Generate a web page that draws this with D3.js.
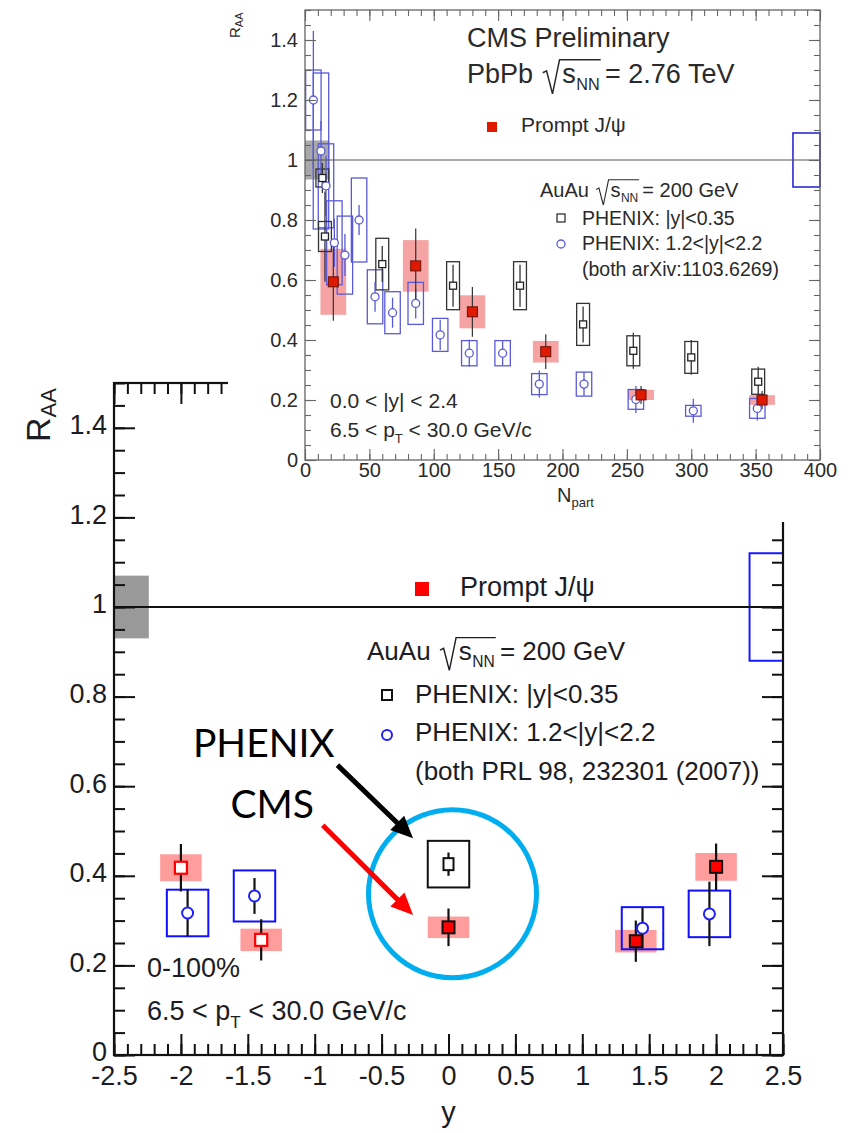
<!DOCTYPE html>
<html>
<head>
<meta charset="utf-8">
<script src="https://cdn.jsdelivr.net/npm/d3@7"></script>
<style>
body { margin: 0; background: #fff; }
svg { display: block; }
text { font-family: "Liberation Sans", Arial, sans-serif; }
</style>
</head>
<body>
<svg id="chart" width="849" height="1133"></svg>
<script>
// ---------- main plot: R_AA vs rapidity ----------
const raaTicks = [0, 0.2, 0.4, 0.6, 0.8, 1, 1.2, 1.4];
const rapTicks = [-2.5, -2, -1.5, -1, -0.5, 0, 0.5, 1, 1.5, 2, 2.5];

// CMS prompt J/psi, measured
const cmsRap = [0, 1.4, 2.0];
const cmsRaa = [0.285, 0.254, 0.42];
const cmsStat = [0.042, 0.046, 0.052];
const cmsSys = [0.024, 0.025, 0.031];
// CMS reflected to negative y (open symbols)
const cmsRefRap = [-2.0, -1.4];
const cmsRefRaa = [0.418, 0.257];
const cmsRefStat = [0.053, 0.046];
const cmsRefSys = [0.03, 0.025];
// PHENIX |y|<0.35
const phxMidRap = [0];
const phxMidRaa = [0.426];
const phxMidStat = [0.026];
const phxMidSys = [0.052];
// PHENIX 1.2<|y|<2.2
const phxFwdRap = [-1.95, -1.45, 1.45, 1.95];
const phxFwdRaa = [0.317, 0.355, 0.283, 0.315];
const phxFwdStat = [0.052, 0.04, 0.045, 0.072];
const phxFwdSys = [0.052, 0.057, 0.047, 0.052];
// global uncertainties at R_AA = 1
const cmsGlobal = 0.07;
const phxGlobal = 0.12;

// ---------- inset: R_AA vs Npart ----------
const npartTicks = [0, 50, 100, 150, 200, 250, 300, 350, 400];

const cmsNpart = [22, 86, 130, 187, 261, 355];
const cmsNpartRaa = [0.594, 0.647, 0.494, 0.361, 0.217, 0.20];
const cmsNpartStat = [0.13, 0.125, 0.083, 0.058, 0.03, 0.03];
const cmsNpartSys = [0.11, 0.086, 0.055, 0.036, 0.017, 0.016];

const phxMidNpart = [13.5, 15.5, 60, 115, 167, 216, 255, 300, 352];
const phxMidNpartRaa = [0.94, 0.745, 0.653, 0.581, 0.581, 0.452, 0.364, 0.342, 0.261];
const phxMidNpartStat = [0.05, 0.15, 0.06, 0.07, 0.07, 0.06, 0.06, 0.058, 0.05];
const phxMidNpartSys = [0.03, 0.05, 0.086, 0.08, 0.08, 0.07, 0.05, 0.053, 0.042];

const phxFwdNpart = [6.5, 12.4, 16.3, 22.8, 31, 42, 54.4, 68, 86, 105, 127.6, 153.5, 182, 216.7, 257, 301.6, 351.3];
const phxFwdNpartRaa = [1.2, 1.03, 0.914, 0.724, 0.683, 0.80, 0.544, 0.491, 0.522, 0.417, 0.356, 0.356, 0.253, 0.253, 0.202, 0.164, 0.172];
const phxFwdNpartStat = [0.23, 0.1, 0.1, 0.08, 0.07, 0.05, 0.05, 0.05, 0.05, 0.05, 0.045, 0.04, 0.045, 0.04, 0.045, 0.04, 0.04];
const phxFwdNpartSys = [0.1, 0.26, 0.14, 0.14, 0.13, 0.14, 0.09, 0.07, 0.07, 0.055, 0.042, 0.042, 0.035, 0.04, 0.033, 0.018, 0.033];

const cmsGlobalNpart = 0.065;
const phxGlobalNpart = 0.09;

// callouts (data coordinates of the main plot)
const calloutText = ["PHENIX", "CMS"];
const calloutAt = [[-1.91, 0.665], [-1.63, 0.53]];
const arrowFrom = [[-0.83, 0.647], [-0.94, 0.513]];
const arrowTo = [[-0.265, 0.484], [-0.265, 0.3125]];
const arrowColor = ["#000", "#f00"];
const ringCenter = [0.03, 0.36];

const svg = d3.select("#chart");
svg.append("rect").attr("width", 849).attr("height", 1133).attr("fill", "#fff");

function zip(xs, ys, st, sy) {
  return xs.map((x, i) => ({x: x, y: ys[i], st: st[i], sy: sy[i]}));
}

function frame(g, x, y, c) {
  const [x0, x1] = x.range(), [y0, y1] = y.range();
  function add(axis, tx, ty, vals, len, pad) {
    const a = g.append("g").attr("transform", `translate(${tx},${ty})`)
      .call(axis.tickValues(vals).tickSize(-len).tickSizeOuter(0)
        .tickPadding(pad == null ? 0 : pad)
        .tickFormat(pad == null ? () => "" : d => String(d)));
    a.select(".domain").remove();
    a.selectAll("line").attr("stroke", c.color).attr("stroke-width", c.tickW);
    a.selectAll("text").attr("fill", c.text).style("font-size", c.fs + "px")
      .style("font-family", '"Liberation Sans", Arial, sans-serif');
    return a;
  }
  add(d3.axisBottom(x), 0, y0, c.xMinor, c.minor);
  add(d3.axisBottom(x), 0, y0, c.xMajor, c.major, c.xPad);
  add(d3.axisTop(x), 0, y1, c.xMinor, c.minor);
  add(d3.axisTop(x), 0, y1, c.xMajor, c.major);
  add(d3.axisLeft(y), x0, 0, c.yMinor, c.minor);
  add(d3.axisLeft(y), x0, 0, c.yMajor, c.major, c.yPad).selectAll("text").attr("dy", c.yDy);
  add(d3.axisRight(y), x1, 0, c.yMinor, c.minor);
  add(d3.axisRight(y), x1, 0, c.yMajor, c.major);
  g.append("rect").attr("x", x0).attr("y", y1).attr("width", x1 - x0).attr("height", y0 - y1)
    .attr("fill", "none").attr("stroke", c.color).attr("stroke-width", c.frameW);
}

function boxes(g, x, y, data, half, fill, stroke, sw) {
  g.selectAll(null).data(data).join("rect")
    .attr("x", d => x(d.x - half)).attr("width", d => x(d.x + half) - x(d.x - half))
    .attr("y", d => y(d.y + d.sy)).attr("height", d => y(d.y - d.sy) - y(d.y + d.sy))
    .attr("fill", fill).attr("stroke", stroke).attr("stroke-width", sw);
}

function errs(g, x, y, data, color, sw) {
  g.selectAll(null).data(data).join("line")
    .attr("x1", d => x(d.x)).attr("x2", d => x(d.x))
    .attr("y1", d => y(d.y + d.st)).attr("y2", d => y(d.y - d.st))
    .attr("stroke", color).attr("stroke-width", sw);
}

function squares(g, x, y, data, w, h, fill, stroke, sw) {
  g.selectAll(null).data(data).join("rect")
    .attr("x", d => x(d.x) - w / 2).attr("y", d => y(d.y) - h / 2)
    .attr("width", w).attr("height", h)
    .attr("fill", fill).attr("stroke", stroke).attr("stroke-width", sw);
}

function circles(g, x, y, data, r, stroke, sw) {
  g.selectAll(null).data(data).join("circle")
    .attr("cx", d => x(d.x)).attr("cy", d => y(d.y)).attr("r", r)
    .attr("fill", "#fff").attr("stroke", stroke).attr("stroke-width", sw);
}

// text "pre sqrt(s_NN) post"
function sqrtLabel(g, x, y, fs, pre, post, color) {
  const t1 = g.append("text").attr("x", x).attr("y", y).attr("fill", color)
    .style("font-size", fs + "px").text(pre);
  const r0 = x + t1.node().getComputedTextLength() + fs * 0.36;
  const s = g.append("text").attr("x", r0 + fs * 0.72).attr("y", y).attr("fill", color)
    .style("font-size", fs + "px").text("s");
  const sEnd = r0 + fs * 0.72 + s.node().getComputedTextLength();
  const nn = g.append("text").attr("x", sEnd + fs * 0.02).attr("y", y + fs * 0.25).attr("fill", color)
    .style("font-size", (fs * 0.6) + "px").text("NN");
  const end = sEnd + fs * 0.02 + nn.node().getComputedTextLength() + fs * 0.04;
  g.append("path")
    .attr("d", `M${r0},${y - fs * 0.38}L${r0 + fs * 0.14},${y - fs * 0.45}L${r0 + fs * 0.36},${y + fs * 0.4}L${r0 + fs * 0.62},${y - fs * 0.86}H${end}`)
    .attr("fill", "none").attr("stroke", color).attr("stroke-width", Math.max(1, fs * 0.055));
  g.append("text").attr("x", end + fs * 0.16).attr("y", y).attr("fill", color)
    .style("font-size", fs + "px").text(post);
}

// ================= main plot =================
const xB = d3.scaleLinear().domain([-2.5, 2.5]).range([114, 783]);
const yB = d3.scaleLinear().domain([0, 1.5]).range([1055, 383]);
const gB = svg.append("g");
const ink = "#1c1c24";

// global uncertainty boxes and unity line
gB.append("rect").attr("x", xB(-2.5)).attr("width", xB(-2.24) - xB(-2.5))
  .attr("y", yB(1 + cmsGlobal)).attr("height", yB(1 - cmsGlobal) - yB(1 + cmsGlobal))
  .attr("fill", "#999");
gB.append("rect").attr("x", xB(2.25)).attr("width", xB(2.5) - xB(2.25))
  .attr("y", yB(1 + phxGlobal)).attr("height", yB(1 - phxGlobal) - yB(1 + phxGlobal))
  .attr("fill", "none").attr("stroke", "#1a1aff").attr("stroke-width", 2);
gB.append("line").attr("x1", xB(-2.5)).attr("x2", xB(2.5)).attr("y1", yB(1)).attr("y2", yB(1))
  .attr("stroke", "#111").attr("stroke-width", 2);

const cmsB = zip(cmsRap, cmsRaa, cmsStat, cmsSys);
const cmsRefB = zip(cmsRefRap, cmsRefRaa, cmsRefStat, cmsRefSys);
const phxMidB = zip(phxMidRap, phxMidRaa, phxMidStat, phxMidSys);
const phxFwdB = zip(phxFwdRap, phxFwdRaa, phxFwdStat, phxFwdSys);
const halfB = 0.155;

boxes(gB, xB, yB, cmsB.concat(cmsRefB), halfB, "#ff9c9c", "none", 0);
boxes(gB, xB, yB, phxFwdB, halfB, "none", "#1010ff", 2);
boxes(gB, xB, yB, phxMidB, halfB, "none", "#111", 2);
errs(gB, xB, yB, phxFwdB.concat(phxMidB, cmsRefB, cmsB), "#111", 2.2);
circles(gB, xB, yB, phxFwdB, 5.5, "#2020ff", 2);
squares(gB, xB, yB, phxMidB, 10, 12, "#fff", "#111", 2);
squares(gB, xB, yB, cmsRefB, 12, 12, "#fff", "#f00", 2.2);
squares(gB, xB, yB, cmsB, 12, 12, "#f00", "#111", 2);

frame(gB, xB, yB, {
  xMajor: rapTicks, xMinor: d3.range(-2.5, 2.5001, 0.1),
  yMajor: raaTicks, yMinor: d3.range(0, 1.5001, 0.05),
  major: 21, minor: 11, tickW: 2, frameW: 2.2, color: "#111", text: ink,
  fs: 27, xPad: 11, yPad: 7, yDy: "0.22em"
});

// axis titles
gB.append("text").attr("x", xB(0)).attr("y", 1122).attr("text-anchor", "middle")
  .attr("fill", ink).style("font-size", "29px").text("y");
const raaB = gB.append("text").attr("transform", "translate(50,442) rotate(-90)").attr("fill", ink)
  .style("font-size", "34px");
raaB.append("tspan").text("R");
raaB.append("tspan").attr("dy", 6).style("font-size", "22px").text("AA");

// in-plot labels
gB.append("text").attr("x", 147).attr("y", 977).attr("fill", ink).style("font-size", "27px").text("0-100%");
const ptB = gB.append("text").attr("x", 147).attr("y", 1020).attr("fill", ink).style("font-size", "27px");
ptB.append("tspan").text("6.5 < p");
ptB.append("tspan").attr("dy", 8).style("font-size", "17px").text("T");
ptB.append("tspan").attr("dy", -8).text(" < 30.0 GeV/c");

// legend
gB.append("rect").attr("x", 415).attr("y", 582).attr("width", 14).attr("height", 14).attr("fill", "#f00");
gB.append("text").attr("x", 460).attr("y", 596).attr("fill", ink).style("font-size", "27px").text("Prompt J/\u03c8");
sqrtLabel(gB, 367, 660, 26, "AuAu", "= 200 GeV", ink);
gB.append("rect").attr("x", 382).attr("y", 690).attr("width", 10).attr("height", 10)
  .attr("fill", "#fff").attr("stroke", "#111").attr("stroke-width", 2);
gB.append("text").attr("x", 415).attr("y", 703).attr("fill", ink).style("font-size", "26px").text("PHENIX: |y|<0.35");
gB.append("circle").attr("cx", 387).attr("cy", 735).attr("r", 5)
  .attr("fill", "#fff").attr("stroke", "#2020ff").attr("stroke-width", 2);
gB.append("text").attr("x", 415).attr("y", 741).attr("fill", ink).style("font-size", "26px").text("PHENIX: 1.2<|y|<2.2");
gB.append("text").attr("x", 415).attr("y", 780).attr("fill", ink).style("font-size", "26px").text("(both PRL 98, 232301 (2007))");

// callouts
gB.append("circle").attr("cx", xB(ringCenter[0])).attr("cy", yB(ringCenter[1])).attr("r", 84)
  .attr("fill", "none").attr("stroke", "#00aeef").attr("stroke-width", 5);
calloutText.forEach((t, i) => {
  gB.append("text").attr("x", xB(calloutAt[i][0])).attr("y", yB(calloutAt[i][1]))
    .attr("fill", "#000").style("font-family", "Lato, 'Open Sans', sans-serif")
    .style("font-size", "39px").text(t);
  const x1 = xB(arrowFrom[i][0]), y1 = yB(arrowFrom[i][1]);
  const x2 = xB(arrowTo[i][0]), y2 = yB(arrowTo[i][1]);
  const L = Math.hypot(x2 - x1, y2 - y1), ux = (x2 - x1) / L, uy = (y2 - y1) / L;
  const hl = 22, hw = 10;
  gB.append("line").attr("x1", x1).attr("y1", y1)
    .attr("x2", x2 - ux * (hl - 2)).attr("y2", y2 - uy * (hl - 2))
    .attr("stroke", arrowColor[i]).attr("stroke-width", 5);
  const bx = x2 - ux * hl, by = y2 - uy * hl;
  gB.append("path")
    .attr("d", `M${x2},${y2}L${bx - uy * hw},${by + ux * hw}L${bx + uy * hw},${by - ux * hw}Z`)
    .attr("fill", arrowColor[i]);
});

// ================= inset =================
const gI = svg.append("g");
gI.append("rect").attr("x", 228).attr("y", 0).attr("width", 621).attr("height", 522).attr("fill", "#fff");

const xI = d3.scaleLinear().domain([0, 400]).range([305, 820]);
const yI = d3.scaleLinear().domain([0, 1.5]).range([460, 10]);
const inkI = "#2a2a2a";

gI.append("rect").attr("x", xI(0)).attr("width", xI(19) - xI(0))
  .attr("y", yI(1 + cmsGlobalNpart)).attr("height", yI(1 - cmsGlobalNpart) - yI(1 + cmsGlobalNpart))
  .attr("fill", "#9a9a9a").attr("opacity", 0.85);
gI.append("rect").attr("x", xI(379)).attr("width", xI(400) - xI(379))
  .attr("y", yI(1 + phxGlobalNpart)).attr("height", yI(1 - phxGlobalNpart) - yI(1 + phxGlobalNpart))
  .attr("fill", "none").attr("stroke", "#2b2bd0").attr("stroke-width", 1.6);

const cmsI = zip(cmsNpart, cmsNpartRaa, cmsNpartStat, cmsNpartSys);
const phxMidI = zip(phxMidNpart, phxMidNpartRaa, phxMidNpartStat, phxMidNpartSys);
const phxFwdI = zip(phxFwdNpart, phxFwdNpartRaa, phxFwdNpartStat, phxFwdNpartSys);

boxes(gI, xI, yI, cmsI, 10, "#f5a3a3", "none", 0);
boxes(gI, xI, yI, phxFwdI, 6, "none", "#5a5ad8", 1.3);
boxes(gI, xI, yI, phxMidI, 5, "none", "#333", 1.3);
errs(gI, xI, yI, phxFwdI, "#5a5ad8", 1.3);
errs(gI, xI, yI, phxMidI, "#333", 1.3);
errs(gI, xI, yI, cmsI, "#333", 1.2);
gI.append("line").attr("x1", xI(0)).attr("x2", xI(400)).attr("y1", yI(1)).attr("y2", yI(1))
  .attr("stroke", "#555").attr("stroke-width", 1.1);
circles(gI, xI, yI, phxFwdI, 4, "#5a5ad8", 1.3);
squares(gI, xI, yI, phxMidI, 7, 7, "#fff", "#222", 1.3);
squares(gI, xI, yI, cmsI, 10, 10, "#e01a00", "#6a1008", 1);

frame(gI, xI, yI, {
  xMajor: npartTicks, xMinor: d3.range(0, 400.1, 10),
  yMajor: raaTicks, yMinor: d3.range(0, 1.5001, 0.05),
  major: 11, minor: 6, tickW: 1.1, frameW: 1.3, color: "#666", text: inkI,
  fs: 20, xPad: 3, yPad: 7, yDy: "0.32em"
});

// axis titles
const raaI = gI.append("text").attr("transform", "translate(240,38) rotate(-90)").attr("fill", inkI)
  .style("font-size", "15px");
raaI.append("tspan").text("R");
raaI.append("tspan").attr("dy", 3).style("font-size", "11px").text("AA");
const npI = gI.append("text").attr("x", 557).attr("y", 502).attr("fill", inkI).style("font-size", "20px");
npI.append("tspan").text("N");
npI.append("tspan").attr("dy", 5).style("font-size", "13px").text("part");

// titles and legend
gI.append("text").attr("x", 467).attr("y", 47).attr("fill", inkI).style("font-size", "27px").text("CMS Preliminary");
sqrtLabel(gI, 467, 83, 27, "PbPb", "= 2.76 TeV", inkI);
gI.append("rect").attr("x", 487).attr("y", 122).attr("width", 10).attr("height", 10).attr("fill", "#e01a00");
gI.append("text").attr("x", 521).attr("y", 132).attr("fill", inkI).style("font-size", "21px").text("Prompt J/\u03c8");
sqrtLabel(gI, 540, 197, 20, "AuAu", "= 200 GeV", inkI);
gI.append("rect").attr("x", 557).attr("y", 214).attr("width", 8).attr("height", 8)
  .attr("fill", "#fff").attr("stroke", "#222").attr("stroke-width", 1.2);
gI.append("text").attr("x", 582).attr("y", 225).attr("fill", inkI).style("font-size", "19.5px").text("PHENIX: |y|<0.35");
gI.append("circle").attr("cx", 561).attr("cy", 244).attr("r", 4)
  .attr("fill", "#fff").attr("stroke", "#5a5ad8").attr("stroke-width", 1.3);
gI.append("text").attr("x", 582).attr("y", 250).attr("fill", inkI).style("font-size", "19.5px").text("PHENIX: 1.2<|y|<2.2");
gI.append("text").attr("x", 582).attr("y", 276).attr("fill", inkI).style("font-size", "19.5px").text("(both arXiv:1103.6269)");

gI.append("text").attr("x", 330).attr("y", 408).attr("fill", inkI).style("font-size", "21px").text("0.0 < |y| < 2.4");
const ptI = gI.append("text").attr("x", 330).attr("y", 437).attr("fill", inkI).style("font-size", "21px");
ptI.append("tspan").text("6.5 < p");
ptI.append("tspan").attr("dy", 6).style("font-size", "13px").text("T");
ptI.append("tspan").attr("dy", -6).text(" < 30.0 GeV/c");
</script>
</body>
</html>
